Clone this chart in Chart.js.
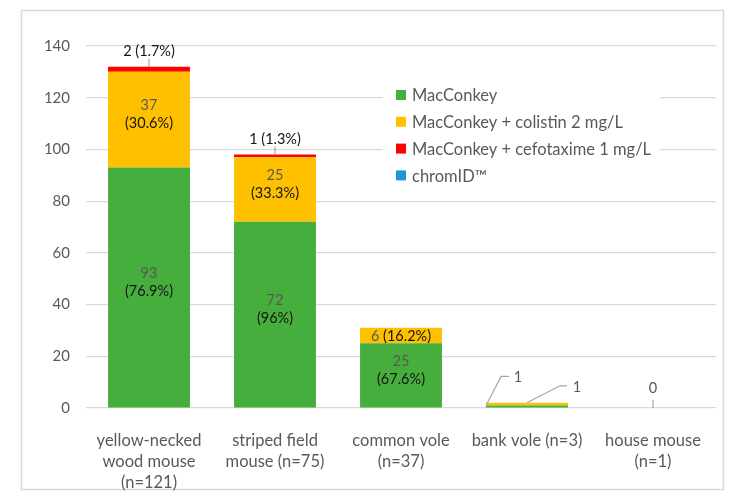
<!DOCTYPE html>
<html>
<head>
<meta charset="utf-8">
<script src="https://cdn.jsdelivr.net/npm/chart.js@4.4.0/dist/chart.umd.min.js"></script>
<style>
body { margin: 0; background: #fff; }
</style>
</head>
<body>
<canvas id="grafica" width="743" height="499"></canvas>
<script>
const categories = [['yellow-necked', 'wood mouse', '(n=121)'], ['striped field', 'mouse (n=75)'], ['common vole', '(n=37)'], 'bank vole (n=3)', ['house mouse', '(n=1)']];
const sampleSizes = [121, 75, 37, 3, 1];
const macConkey = [93, 72, 25, 1, 0];
const colistin = [37, 25, 6, 1, 0];
const cefotaxime = [2, 1, 0, 0, 0];
const chromID = [0, 0, 0, 0, 0];
const seriesNames = ['MacConkey', 'MacConkey + colistin 2 mg/L', 'MacConkey + cefotaxime 1 mg/L', 'chromID™'];

const FONT = 'Lato';
const GREY = '#595959';
const DARK = '#141414';

function pct(v, n) {
	let s = (v / n * 100).toFixed(1);
	if (s.endsWith('.0')) s = s.slice(0, -2);
	return '(' + s + '%)';
}

// light frame round the whole chart
const frame = {
	id: 'frame',
	beforeDraw(chart) {
		const ctx = chart.ctx;
		ctx.save();
		ctx.strokeStyle = '#d9d9d9';
		ctx.lineWidth = 1.5;
		ctx.strokeRect(21.5, 10.5, 702, 479);
		ctx.restore();
	}
};

// legend sits inside the plot, on a white patch
const legendBox = {
	id: 'legendBox',
	afterDatasetsDraw(chart) {
		const ctx = chart.ctx;
		ctx.save();
		ctx.fillStyle = '#fff';
		ctx.fillRect(383, 82, 277, 106);
		ctx.font = '16.5px ' + FONT;
		ctx.textBaseline = 'middle';
		chart.data.datasets.forEach(function(ds, k) {
			const y = 95 + k * 26.8;
			ctx.fillStyle = ds.backgroundColor;
			ctx.fillRect(396, y - 5, 10, 10);
			ctx.fillStyle = GREY;
			ctx.fillText(ds.label, 412, y + 1);
		});
		ctx.restore();
	}
};

function twoTone(ctx, a, b, x, y) {
	// "a b" centered on x, a in grey, b in dark
	const wa = ctx.measureText(a + ' ').width;
	const wb = ctx.measureText(b).width;
	const start = x - (wa + wb) / 2;
	ctx.textAlign = 'left';
	ctx.fillStyle = GREY;
	ctx.fillText(a + ' ', start, y);
	ctx.fillStyle = DARK;
	ctx.fillText(b, start + wa, y);
	ctx.textAlign = 'center';
}

const barLabels = {
	id: 'barLabels',
	afterDatasetsDraw(chart) {
		const ctx = chart.ctx;
		ctx.save();
		ctx.font = '14.5px ' + FONT;
		ctx.textAlign = 'center';
		ctx.textBaseline = 'middle';
		ctx.strokeStyle = '#a6a6a6';
		ctx.lineWidth = 1.2;
		chart.data.datasets.forEach(function(ds, d) {
			const meta = chart.getDatasetMeta(d);
			ds.data.forEach(function(v, i) {
				const n = sampleSizes[i];
				const bar = meta.data[i].getProps(['x', 'y', 'base', 'width'], true);
				const mid = (bar.y + bar.base) / 2;
				if (v === 0) return;
				if (d === 2) {
					ctx.beginPath();
					ctx.moveTo(bar.x, bar.y);
					ctx.lineTo(bar.x, bar.y - 8);
					ctx.stroke();
					ctx.fillStyle = DARK;
					ctx.fillText(v + ' ' + pct(v, n), bar.x, bar.y - 15);
				} else if (v >= 10) {
					ctx.fillStyle = GREY;
					ctx.fillText(String(v), bar.x, mid - 14);
					ctx.fillStyle = DARK;
					ctx.fillText(pct(v, n), bar.x, mid + 4);
				} else if (v > 1) {
					twoTone(ctx, String(v), pct(v, n), bar.x, mid + 1);
				} else if (d === 0) {
					const x0 = bar.x - bar.width / 2;
					ctx.beginPath();
					ctx.moveTo(x0, bar.y);
					ctx.lineTo(x0 + 15, bar.y - 29);
					ctx.lineTo(x0 + 23, bar.y - 29);
					ctx.stroke();
					ctx.fillStyle = GREY;
					ctx.fillText(String(v), x0 + 32, bar.y - 28);
				} else {
					ctx.beginPath();
					ctx.moveTo(bar.x, bar.y);
					ctx.lineTo(bar.x + 33, bar.y - 17);
					ctx.lineTo(bar.x + 40, bar.y - 17);
					ctx.stroke();
					ctx.fillStyle = GREY;
					ctx.fillText(String(v), bar.x + 50, bar.y - 16);
				}
			});
		});
		// empty categories get a "0" on a short tick
		const base = chart.scales.y.getPixelForValue(0);
		categories.forEach(function(c, i) {
			const total = macConkey[i] + colistin[i] + cefotaxime[i] + chromID[i];
			if (total !== 0) return;
			const x = chart.scales.x.getPixelForValue(i);
			ctx.beginPath();
			ctx.moveTo(x, base);
			ctx.lineTo(x, base - 8);
			ctx.stroke();
			ctx.fillStyle = GREY;
			ctx.fillText('0', x, base - 20);
		});
		ctx.restore();
	}
};

const data = {
	labels: categories,
	datasets: [
		{ label: seriesNames[0], data: macConkey, backgroundColor: '#45AE3C' },
		{ label: seriesNames[1], data: colistin, backgroundColor: '#FFC000' },
		{ label: seriesNames[2], data: cefotaxime, backgroundColor: '#FF0000' },
		{ label: seriesNames[3], data: chromID, backgroundColor: '#1F96DA' }
	]
};

const config = {
	type: 'bar',
	data: data,
	options: {
		responsive: false,
		animation: false,
		devicePixelRatio: 1,
		categoryPercentage: 0.65,
		barPercentage: 1,
		layout: { padding: { top: 46, right: 27, left: 0, bottom: 0 } },
		plugins: {
			legend: { display: false },
			tooltip: { enabled: false }
		},
		scales: {
			x: {
				stacked: true,
				grid: { display: false },
				border: { display: false },
				ticks: {
					color: GREY,
					padding: 14,
					maxRotation: 0,
					autoSkip: false,
					font: { family: FONT, size: 16.5, lineHeight: 1.27 }
				},
				afterFit: function(scale) { scale.height = 91; }
			},
			y: {
				stacked: true,
				min: 0,
				max: 140,
				grid: { color: '#d9d9d9', lineWidth: 1.2, drawTicks: false },
				border: { display: false },
				ticks: {
					stepSize: 20,
					color: GREY,
					padding: 16,
					font: { family: FONT, size: 15 }
				},
				afterFit: function(scale) { scale.width = 86; }
			}
		}
	},
	plugins: [frame, legendBox, barLabels]
};

new Chart(document.querySelector('#grafica'), config);
</script>
</body>
</html>
